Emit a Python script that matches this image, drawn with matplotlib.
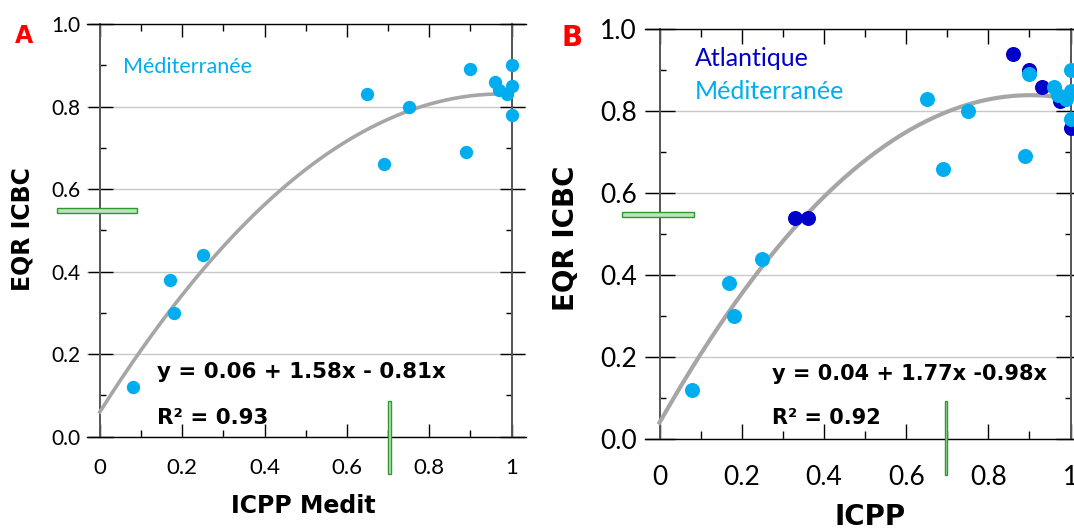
import matplotlib
matplotlib.use('Agg')
import matplotlib.pyplot as plt
from matplotlib.patches import Rectangle
import numpy as np

plt.rcParams['font.family'] = ['Lato', 'DejaVu Sans']

# ── données ───────────────────────────────────────────
# Méditerranée (mêmes points dans A et B)
med_icpp = [0.08, 0.17, 0.18, 0.25, 0.65, 0.69, 0.75, 0.89, 0.90, 0.96, 0.97, 0.99, 1.00, 1.00, 1.00]
med_eqr  = [0.12, 0.38, 0.30, 0.44, 0.83, 0.66, 0.80, 0.69, 0.89, 0.86, 0.84, 0.83, 0.90, 0.85, 0.78]
# Atlantique (seulement B)
atl_icpp = [0.33, 0.36, 0.86, 0.90, 0.93, 0.975, 1.00]
atl_eqr  = [0.54, 0.54, 0.94, 0.90, 0.86, 0.825, 0.76]

# ajustements polynomiaux y = a + b x + c x^2
coef_a = (0.06, 1.58, -0.81)
coef_b = (0.04, 1.77, -0.98)
eq_a = "y = 0.06 + 1.58x - 0.81x"
eq_b = "y = 0.04 + 1.77x -0.98x"
r2_a = "R\u00b2 = 0.93"
r2_b = "R\u00b2 = 0.92"

# seuils (barres vertes)
seuil_eqr_a, seuil_icpp_a = 0.548, 0.703
seuil_eqr_b, seuil_icpp_b = 0.548, 0.697

xticks = [0, 0.2, 0.4, 0.6, 0.8, 1.0]
xticklabels = ["0", "0.2", "0.4", "0.6", "0.8", "1"]
yticks = [0, 0.2, 0.4, 0.6, 0.8, 1.0]
yticklabels = ["0.0", "0.2", "0.4", "0.6", "0.8", "1.0"]

C_MED = "#00AEEF"
C_ATL = "#0000C8"
C_FIT = "#A6A6A6"
BOLD = ["DejaVu Sans"]

fig = plt.figure(figsize=(10.74, 5.30), dpi=100)


def panneau(rect, xmin, fs_x, fs_y, ylen, xlen, xpad, ypad):
    ax = fig.add_axes(rect)
    ax.set_xlim(xmin, 1.035)
    ax.set_ylim(0, 1)
    ax.spines['left'].set_position(('data', 0))
    ax.spines['right'].set_position(('data', 1))
    for s in ('left', 'right'):
        ax.spines[s].set_color('#555555')
        ax.spines[s].set_linewidth(1.4)
    for s in ('top', 'bottom'):
        ax.spines[s].set_color('black')
        ax.spines[s].set_linewidth(1.0)

    ax.set_xticks(xticks)
    ax.set_xticklabels(xticklabels)
    ax.set_xticks(np.arange(0.1, 1.0, 0.2), minor=True)
    ax.set_yticks(yticks)
    ax.set_yticklabels(yticklabels)
    ax.set_yticks(np.arange(0.1, 1.0, 0.2), minor=True)

    ax.tick_params(axis='y', which='major', direction='inout', length=ylen, width=1,
                   left=True, right=True, labelsize=fs_y, pad=ypad)
    ax.tick_params(axis='y', which='minor', direction='in', length=4.5, width=1,
                   left=True, right=True)
    ax.tick_params(axis='x', which='major', direction='in', length=xlen, width=1,
                   top=True, bottom=True, labelsize=fs_x, pad=xpad)
    ax.tick_params(axis='x', which='minor', direction='in', length=xlen * 0.55, width=1,
                   top=True, bottom=True)

    ax.yaxis.grid(True, color='#c8c8c8', linewidth=1)
    ax.set_axisbelow(True)
    return ax


def seuils(ax, y_h, x_v, x0, x1, y0, y1):
    ax.add_patch(Rectangle((x0, y_h - 0.0055), x1 - x0, 0.011, facecolor='#bfe3bf',
                           edgecolor='#2e9a2e', linewidth=1, clip_on=False, zorder=6))
    ax.add_patch(Rectangle((x_v - 0.0035, y0), 0.007, y1 - y0, facecolor='#bfe3bf',
                           edgecolor='#2e9a2e', linewidth=1, clip_on=False, zorder=6))


xs = np.linspace(0, 1, 200)

# ── A : Méditerranée ──────────────────────────────────
axA = panneau([0.0807, 0.1760, 0.4090, 0.7787], -0.032, 16, 15, 18, 9.5, 15.5, 4.8)
a, b, c = coef_a
axA.plot(xs, a + b * xs + c * xs ** 2, color=C_FIT, linewidth=2.6, zorder=3)
axA.scatter(med_icpp, med_eqr, s=92, color=C_MED, linewidths=0, zorder=4, clip_on=False)
seuils(axA, seuil_eqr_a, seuil_icpp_a, -0.104, 0.09, -0.09, 0.087)
axA.text(0.056, 0.897, "Méditerranée", color=C_MED, fontsize=15.5, va='center', ha='left')
axA.text(0.1395, 0.157, eq_a, fontsize=15.4, fontweight='bold', family=BOLD, va='center')
axA.text(0.1395, 0.046, r2_a, fontsize=15.4, fontweight='bold', family=BOLD, va='center')

# ── B : Atlantique + Méditerranée ─────────────────────
axB = panneau([0.6006, 0.1717, 0.4096, 0.7730], -0.0353, 19, 19, 21, 11, 19, 6)
a, b, c = coef_b
axB.plot(xs, a + b * xs + c * xs ** 2, color=C_FIT, linewidth=3, zorder=3)
axB.scatter(atl_icpp, atl_eqr, s=117, color=C_ATL, linewidths=0, zorder=4, clip_on=False)
axB.scatter(med_icpp, med_eqr, s=117, color=C_MED, linewidths=0, zorder=5, clip_on=False)
seuils(axB, seuil_eqr_b, seuil_icpp_b, -0.092, 0.084, -0.088, 0.0935)
axB.text(0.086, 0.928, "Atlantique", color=C_ATL, fontsize=18, va='center', ha='left')
axB.text(0.086, 0.848, "Méditerranée", color=C_MED, fontsize=18, va='center', ha='left')
axB.text(0.274, 0.159, eq_b, fontsize=15, fontweight='bold', family=BOLD, va='center')
axB.text(0.274, 0.052, r2_b, fontsize=15, fontweight='bold', family=BOLD, va='center')

# titres d'axes et lettres
fig.text(0.2825, 0.0453, "ICPP Medit", fontsize=17, fontweight='bold', family=BOLD,
         ha='center', va='center')
fig.text(0.021, 0.568, "EQR ICBC", fontsize=17, fontweight='bold', family=BOLD,
         ha='center', va='center', rotation=90)
fig.text(0.8103, 0.0236, "ICPP", fontsize=20, fontweight='bold', family=BOLD,
         ha='center', va='center')
fig.text(0.527, 0.5506, "EQR ICBC", fontsize=20, fontweight='bold', family=BOLD,
         ha='center', va='center', rotation=90)
fig.text(0.0221, 0.932, "A", color='red', fontsize=17, fontweight='bold', family=BOLD,
         ha='center', va='center')
fig.text(0.5326, 0.9277, "B", color='red', fontsize=20, fontweight='bold', family=BOLD,
         ha='center', va='center')

fig.savefig("out.png", dpi=100, facecolor='white')
plt.close(fig)
